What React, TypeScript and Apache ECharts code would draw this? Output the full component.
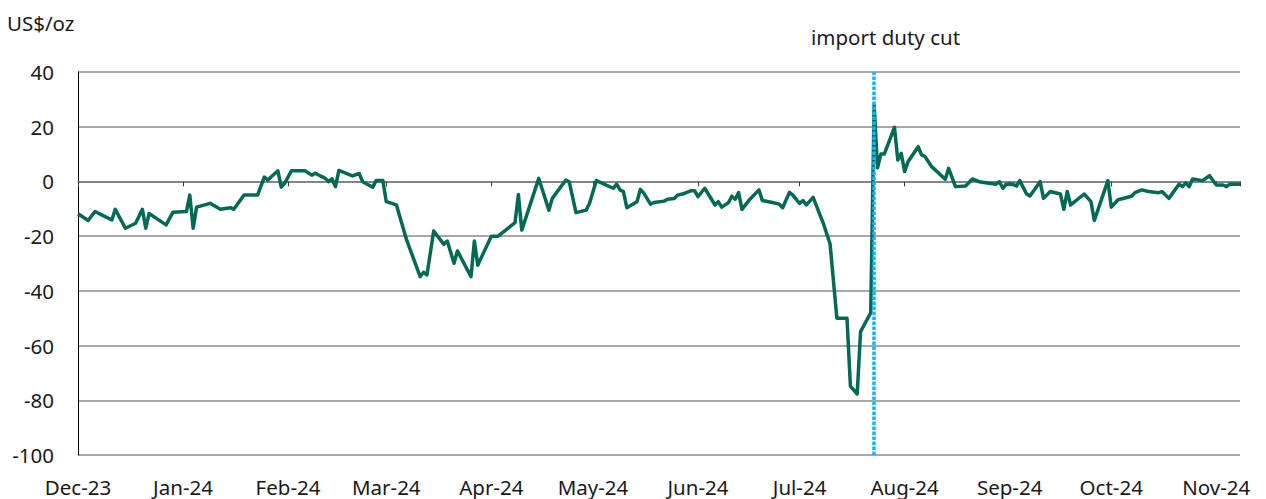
import React, { useEffect, useRef } from "react";
import * as echarts from "echarts";

const FONT = "'Noto Sans', 'Open Sans', sans-serif";

const Y_UNIT = "US$/oz";
const EVENT_LABEL = "import duty cut";
const DUTY_CUT_DATE = "2024-07-23";
const X_MIN = "2023-12-01";
const X_MAX = "2024-11-08";
const Y_MIN = -100;
const Y_MAX = 40;
const Y_STEP = 20;
const MONTH_NAMES = ["Jan", "Feb", "Mar", "Apr", "May", "Jun", "Jul", "Aug", "Sep", "Oct", "Nov", "Dec"];

const dates = [
  "2023-12-01", "2023-12-04", "2023-12-06", "2023-12-08", "2023-12-11", "2023-12-12", "2023-12-15", "2023-12-18",
  "2023-12-20", "2023-12-21", "2023-12-22", "2023-12-27", "2023-12-29", "2024-01-02", "2024-01-03", "2024-01-04",
  "2024-01-05", "2024-01-09", "2024-01-12", "2024-01-15", "2024-01-16", "2024-01-19", "2024-01-23", "2024-01-25",
  "2024-01-26", "2024-01-29", "2024-01-30", "2024-01-31", "2024-02-02", "2024-02-06", "2024-02-08", "2024-02-09",
  "2024-02-12", "2024-02-13", "2024-02-14", "2024-02-15", "2024-02-16", "2024-02-20", "2024-02-22", "2024-02-23",
  "2024-02-26", "2024-02-27", "2024-02-29", "2024-03-01", "2024-03-04", "2024-03-07", "2024-03-11", "2024-03-12",
  "2024-03-13", "2024-03-15", "2024-03-18", "2024-03-19", "2024-03-21", "2024-03-22", "2024-03-26", "2024-03-27",
  "2024-03-28", "2024-04-01", "2024-04-03", "2024-04-08", "2024-04-09", "2024-04-10", "2024-04-15", "2024-04-18",
  "2024-04-19", "2024-04-23", "2024-04-24", "2024-04-26", "2024-04-29", "2024-04-30", "2024-05-02", "2024-05-07",
  "2024-05-08", "2024-05-09", "2024-05-10", "2024-05-11", "2024-05-14", "2024-05-15", "2024-05-16", "2024-05-18",
  "2024-05-19", "2024-05-22", "2024-05-23", "2024-05-25", "2024-05-26", "2024-05-28", "2024-05-30", "2024-05-31",
  "2024-06-01", "2024-06-03", "2024-06-05", "2024-06-06", "2024-06-07", "2024-06-08", "2024-06-10", "2024-06-11",
  "2024-06-12", "2024-06-13", "2024-06-14", "2024-06-16", "2024-06-19", "2024-06-20", "2024-06-23", "2024-06-25",
  "2024-06-26", "2024-06-28", "2024-06-29", "2024-07-01", "2024-07-02", "2024-07-03", "2024-07-05", "2024-07-08",
  "2024-07-10", "2024-07-12", "2024-07-15", "2024-07-16", "2024-07-18", "2024-07-19", "2024-07-22", "2024-07-23",
  "2024-07-24", "2024-07-25", "2024-07-26", "2024-07-29", "2024-07-30", "2024-07-31", "2024-08-01", "2024-08-02",
  "2024-08-05", "2024-08-06", "2024-08-07", "2024-08-09", "2024-08-13", "2024-08-14", "2024-08-16", "2024-08-19",
  "2024-08-21", "2024-08-23", "2024-08-26", "2024-08-28", "2024-08-29", "2024-08-30", "2024-08-31", "2024-09-02",
  "2024-09-03", "2024-09-04", "2024-09-06", "2024-09-07", "2024-09-10", "2024-09-11", "2024-09-13", "2024-09-16",
  "2024-09-17", "2024-09-18", "2024-09-19", "2024-09-23", "2024-09-25", "2024-09-26", "2024-09-30", "2024-10-01",
  "2024-10-03", "2024-10-07", "2024-10-08", "2024-10-10", "2024-10-12", "2024-10-15", "2024-10-16", "2024-10-18",
  "2024-10-21", "2024-10-22", "2024-10-23", "2024-10-24", "2024-10-25", "2024-10-28", "2024-10-30", "2024-11-01",
  "2024-11-03", "2024-11-04", "2024-11-05", "2024-11-08",
];

const values = [
  -11.8, -14.3, -11.0, -12.2, -14.1, -10.2, -17.1, -15.3,
  -10.2, -17.1, -11.7, -15.9, -11.3, -11.0, -5.0, -17.1,
  -9.4, -8.0, -10.2, -9.6, -10.2, -5.0, -5.0, 1.6,
  0.5, 3.9, -2.1, -0.7, 3.9, 3.9, 2.3, 3.0,
  1.1, -0.1, 0.9, -1.9, 4.0, 2.0, 2.9, -0.1,
  -2.1, 0.3, 0.3, -7.4, -8.6, -21.4, -34.8, -33.2,
  -34.2, -18.1, -23.0, -21.8, -29.9, -25.4, -34.8, -21.8,
  -30.6, -20.0, -20.0, -15.1, -4.8, -17.8, 1.1, -10.5,
  -6.2, 0.5, -0.1, -11.4, -10.5, -8.0, 0.3, -2.5,
  -1.0, -3.1, -3.7, -9.6, -7.4, -2.9, -4.3, -8.3,
  -7.7, -7.2, -6.5, -6.2, -5.0, -4.4, -3.4, -3.4,
  -5.6, -2.5, -6.5, -8.6, -7.4, -9.4, -7.8, -5.4,
  -6.5, -4.1, -10.2, -7.0, -3.1, -7.0, -7.7, -8.3,
  -9.6, -4.0, -5.0, -8.0, -7.0, -8.6, -5.8, -15.3,
  -22.9, -50.0, -50.0, -74.8, -77.7, -54.9, -48.0, 27.9,
  5.0, 10.0, 10.0, 19.8, 7.8, 10.3, 3.6, 7.2,
  12.7, 9.7, 9.1, 5.4, 0.8, 4.8, -1.9, -1.7,
  0.9, -0.1, -0.7, -1.0, -0.1, -2.5, -1.0, -1.0,
  -1.7, 0.3, -4.6, -5.3, -0.1, -6.2, -3.7, -4.6,
  -10.2, -3.7, -8.6, -4.6, -7.4, -14.3, 0.3, -9.4,
  -6.7, -5.4, -4.1, -3.1, -3.7, -4.1, -3.7, -6.2,
  -1.0, -1.9, -0.5, -1.9, 0.9, 0.3, 2.1, -1.3,
  -1.3, -1.9, -1.0, -1.0,
];

const DAY = 24 * 3600 * 1000;

function monthLabel(value: number): string {
  const d = new Date(value);
  return MONTH_NAMES[d.getMonth()] + "-" + String(d.getFullYear()).slice(2);
}

export default function App() {
  const ref = useRef<HTMLDivElement>(null);

  useEffect(() => {
    if (!ref.current) return;
    const chart = echarts.init(ref.current, undefined, { renderer: "svg" });
    const textColor = "#1a1a1a";
    const fontSize = 20.5;
    const timeAxisBase = {
      type: "time",
      min: X_MIN,
      max: X_MAX,
      minInterval: 28 * DAY,
      maxInterval: 31 * DAY,
      splitLine: { show: false },
    };
    chart.setOption({
      animation: false,
      grid: { left: 78, right: 26, top: 72, bottom: 44 },
      title: [
        {
          text: Y_UNIT,
          left: 2,
          top: 7,
          textStyle: { fontFamily: FONT, fontSize, fontWeight: "normal", color: textColor },
        },
        {
          text: EVENT_LABEL,
          left: 806,
          top: 21,
          textStyle: { fontFamily: FONT, fontSize, fontWeight: "normal", color: textColor },
        },
      ],
      xAxis: [
        {
          ...timeAxisBase,
          position: "bottom",
          axisLine: { show: false, onZero: false },
          axisTick: { show: false },
          axisLabel: {
            formatter: (v: number) => monthLabel(v),
            fontFamily: FONT,
            fontSize,
            color: textColor,
            margin: 21,
            showMinLabel: true,
            showMaxLabel: false,
            hideOverlap: false,
          },
        },
        {
          ...timeAxisBase,
          position: "bottom",
          axisLine: { show: true, onZero: true, lineStyle: { color: "#7a7a7a", width: 1.5 } },
          axisTick: { show: true, length: 5, lineStyle: { color: "#404040", width: 1 } },
          axisLabel: { show: false },
        },
      ],
      yAxis: {
        type: "value",
        min: Y_MIN,
        max: Y_MAX,
        interval: Y_STEP,
        axisLine: { show: true, onZero: false, lineStyle: { color: "#000000", width: 1 } },
        axisTick: { show: false },
        splitLine: { show: true, lineStyle: { color: "#a8a8a8", width: 2 } },
        axisLabel: { fontFamily: FONT, fontSize, color: textColor, margin: 24 },
      },
      series: [
        {
          type: "line",
          xAxisIndex: 0,
          data: dates.map((d, i) => [d, values[i]]),
          showSymbol: false,
          symbol: "none",
          lineStyle: { color: "#006a55", width: 3.5, join: "round" },
          markLine: {
            silent: true,
            symbol: ["none", "none"],
            label: { show: false },
            lineStyle: { color: "#18b4f4", type: [3.5, 1.5], width: 3.5 },
            data: [{ xAxis: DUTY_CUT_DATE }],
          },
          z: 3,
        },
      ],
    });
    return () => chart.dispose();
  }, []);

  return (
    <div
      ref={ref}
      style={{ position: "fixed", left: 0, top: 0, width: 1266, height: 499, background: "#ffffff" }}
    />
  );
}
